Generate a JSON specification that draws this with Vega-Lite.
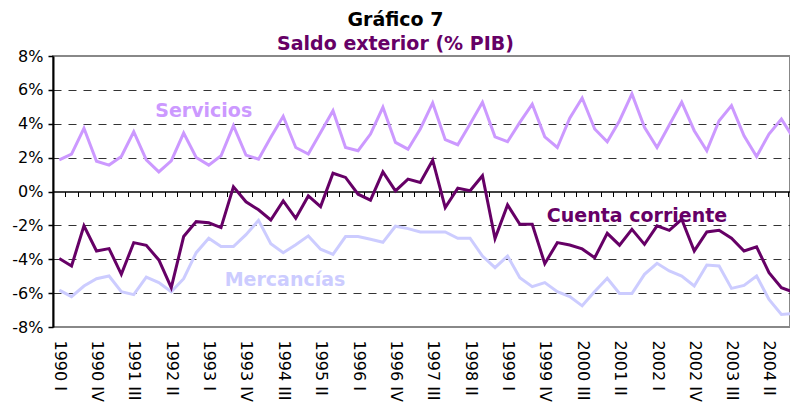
{
  "$schema": "https://vega.github.io/schema/vega-lite/v6.json",
  "width": 737,
  "height": 271,
  "autosize": {"type": "none"},
  "padding": {"left": 53, "top": 56, "right": 0, "bottom": 78},
  "title": {
    "text": "Gráfico 7",
    "subtitle": "Saldo exterior (% PIB)",
    "font": "DejaVu Sans",
    "subtitleFont": "DejaVu Sans",
    "fontSize": 19,
    "subtitleFontSize": 19,
    "fontWeight": "bold",
    "subtitleFontWeight": "bold",
    "color": "#000000",
    "subtitleColor": "#660066",
    "anchor": "middle",
    "dx": -26,
    "dy": 9,
    "offset": 3,
    "subtitlePadding": 5
  },
  "config": {
    "font": "DejaVu Sans",
    "view": {"stroke": "#888888", "strokeWidth": 2},
    "axis": {"labelFont": "DejaVu Sans", "labelColor": "#000000"}
  },
  "encoding": {
    "y": {
      "field": "valor",
      "type": "quantitative",
      "scale": {"domain": [-8, 8], "nice": false, "zero": false},
      "axis": {
        "title": null,
        "values": [-8, -6, -4, -2, 0, 2, 4, 6, 8],
        "labelExpr": "datum.value + '%'",
        "labelFontSize": 16,
        "labelPadding": 5,
        "labelOverlap": false,
        "labelFlush": false,
        "domainColor": "#000000",
        "domainWidth": 2,
        "tickColor": "#000000",
        "tickSize": 5,
        "tickWidth": 1.5,
        "grid": true,
        "gridColor": "#333333",
        "gridWidth": 1,
        "gridDash": [8, 7],
        "gridOpacity": {"condition": {"test": "abs(datum.value) == 8 || datum.value == 0", "value": 0}, "value": 1}
      }
    }
  },
  "layer": [
    {
      "data": {
        "values": [
          {"trimestre": "1990-01-01", "Cuenta corriente": -3.96, "Servicios": 1.87, "Mercancías": -5.82},
          {"trimestre": "1990-04-01", "Cuenta corriente": -4.40, "Servicios": 2.21, "Mercancías": -6.21},
          {"trimestre": "1990-07-01", "Cuenta corriente": -2.03, "Servicios": 3.73, "Mercancías": -5.58},
          {"trimestre": "1990-10-01", "Cuenta corriente": -3.51, "Servicios": 1.79, "Mercancías": -5.15},
          {"trimestre": "1991-01-01", "Cuenta corriente": -3.37, "Servicios": 1.56, "Mercancías": -4.99},
          {"trimestre": "1991-04-01", "Cuenta corriente": -4.89, "Servicios": 2.07, "Mercancías": -5.92},
          {"trimestre": "1991-07-01", "Cuenta corriente": -3.02, "Servicios": 3.53, "Mercancías": -6.09},
          {"trimestre": "1991-10-01", "Cuenta corriente": -3.18, "Servicios": 1.87, "Mercancías": -5.05},
          {"trimestre": "1992-01-01", "Cuenta corriente": -4.04, "Servicios": 1.16, "Mercancías": -5.38},
          {"trimestre": "1992-04-01", "Cuenta corriente": -5.68, "Servicios": 1.81, "Mercancías": -5.92},
          {"trimestre": "1992-07-01", "Cuenta corriente": -2.66, "Servicios": 3.45, "Mercancías": -5.15},
          {"trimestre": "1992-10-01", "Cuenta corriente": -1.78, "Servicios": 2.01, "Mercancías": -3.61},
          {"trimestre": "1993-01-01", "Cuenta corriente": -1.85, "Servicios": 1.56, "Mercancías": -2.76},
          {"trimestre": "1993-04-01", "Cuenta corriente": -2.13, "Servicios": 2.11, "Mercancías": -3.25},
          {"trimestre": "1993-07-01", "Cuenta corriente": 0.28, "Servicios": 3.89, "Mercancías": -3.25},
          {"trimestre": "1993-10-01", "Cuenta corriente": -0.61, "Servicios": 2.15, "Mercancías": -2.55},
          {"trimestre": "1994-01-01", "Cuenta corriente": -1.08, "Servicios": 1.91, "Mercancías": -1.70},
          {"trimestre": "1994-04-01", "Cuenta corriente": -1.68, "Servicios": 3.20, "Mercancías": -3.08},
          {"trimestre": "1994-07-01", "Cuenta corriente": -0.55, "Servicios": 4.44, "Mercancías": -3.61},
          {"trimestre": "1994-10-01", "Cuenta corriente": -1.58, "Servicios": 2.60, "Mercancías": -3.14},
          {"trimestre": "1995-01-01", "Cuenta corriente": -0.26, "Servicios": 2.21, "Mercancías": -2.62},
          {"trimestre": "1995-04-01", "Cuenta corriente": -0.89, "Servicios": 3.49, "Mercancías": -3.41},
          {"trimestre": "1995-07-01", "Cuenta corriente": 1.08, "Servicios": 4.77, "Mercancías": -3.71},
          {"trimestre": "1995-10-01", "Cuenta corriente": 0.83, "Servicios": 2.60, "Mercancías": -2.66},
          {"trimestre": "1996-01-01", "Cuenta corriente": -0.16, "Servicios": 2.41, "Mercancías": -2.66},
          {"trimestre": "1996-04-01", "Cuenta corriente": -0.51, "Servicios": 3.39, "Mercancías": -2.82},
          {"trimestre": "1996-07-01", "Cuenta corriente": 1.16, "Servicios": 4.97, "Mercancías": -3.00},
          {"trimestre": "1996-10-01", "Cuenta corriente": 0.04, "Servicios": 2.90, "Mercancías": -2.05},
          {"trimestre": "1997-01-01", "Cuenta corriente": 0.73, "Servicios": 2.50, "Mercancías": -2.19},
          {"trimestre": "1997-04-01", "Cuenta corriente": 0.53, "Servicios": 3.69, "Mercancías": -2.39},
          {"trimestre": "1997-07-01", "Cuenta corriente": 1.85, "Servicios": 5.23, "Mercancías": -2.39},
          {"trimestre": "1997-10-01", "Cuenta corriente": -0.95, "Servicios": 3.06, "Mercancías": -2.39},
          {"trimestre": "1998-01-01", "Cuenta corriente": 0.20, "Servicios": 2.76, "Mercancías": -2.76},
          {"trimestre": "1998-04-01", "Cuenta corriente": 0.04, "Servicios": 3.98, "Mercancías": -2.76},
          {"trimestre": "1998-07-01", "Cuenta corriente": 0.93, "Servicios": 5.27, "Mercancías": -3.81},
          {"trimestre": "1998-10-01", "Cuenta corriente": -2.78, "Servicios": 3.23, "Mercancías": -4.50},
          {"trimestre": "1999-01-01", "Cuenta corriente": -0.79, "Servicios": 2.94, "Mercancías": -3.81},
          {"trimestre": "1999-04-01", "Cuenta corriente": -1.93, "Servicios": 4.08, "Mercancías": -5.09},
          {"trimestre": "1999-07-01", "Cuenta corriente": -1.93, "Servicios": 5.15, "Mercancías": -5.62},
          {"trimestre": "1999-10-01", "Cuenta corriente": -4.26, "Servicios": 3.23, "Mercancías": -5.38},
          {"trimestre": "2000-01-01", "Cuenta corriente": -3.02, "Servicios": 2.60, "Mercancías": -5.92},
          {"trimestre": "2000-04-01", "Cuenta corriente": -3.16, "Servicios": 4.33, "Mercancías": -6.20},
          {"trimestre": "2000-07-01", "Cuenta corriente": -3.39, "Servicios": 5.52, "Mercancías": -6.75},
          {"trimestre": "2000-10-01", "Cuenta corriente": -3.91, "Servicios": 3.69, "Mercancías": -5.90},
          {"trimestre": "2001-01-01", "Cuenta corriente": -2.47, "Servicios": 2.94, "Mercancías": -5.12},
          {"trimestre": "2001-04-01", "Cuenta corriente": -3.17, "Servicios": 4.18, "Mercancías": -6.02},
          {"trimestre": "2001-07-01", "Cuenta corriente": -2.23, "Servicios": 5.76, "Mercancías": -6.02},
          {"trimestre": "2001-10-01", "Cuenta corriente": -3.12, "Servicios": 3.79, "Mercancías": -4.89},
          {"trimestre": "2002-01-01", "Cuenta corriente": -2.03, "Servicios": 2.60, "Mercancías": -4.24},
          {"trimestre": "2002-04-01", "Cuenta corriente": -2.29, "Servicios": 3.93, "Mercancías": -4.69},
          {"trimestre": "2002-07-01", "Cuenta corriente": -1.64, "Servicios": 5.27, "Mercancías": -4.99},
          {"trimestre": "2002-10-01", "Cuenta corriente": -3.51, "Servicios": 3.59, "Mercancías": -5.58},
          {"trimestre": "2003-01-01", "Cuenta corriente": -2.39, "Servicios": 2.41, "Mercancías": -4.34},
          {"trimestre": "2003-04-01", "Cuenta corriente": -2.29, "Servicios": 4.18, "Mercancías": -4.40},
          {"trimestre": "2003-07-01", "Cuenta corriente": -2.76, "Servicios": 5.07, "Mercancías": -5.72},
          {"trimestre": "2003-10-01", "Cuenta corriente": -3.51, "Servicios": 3.29, "Mercancías": -5.54},
          {"trimestre": "2004-01-01", "Cuenta corriente": -3.27, "Servicios": 2.07, "Mercancías": -4.99},
          {"trimestre": "2004-04-01", "Cuenta corriente": -4.79, "Servicios": 3.39, "Mercancías": -6.37},
          {"trimestre": "2004-07-01", "Cuenta corriente": -5.68, "Servicios": 4.28, "Mercancías": -7.26},
          {"trimestre": "2004-10-01", "Cuenta corriente": -5.95, "Servicios": 3.10, "Mercancías": -7.20}
        ]
      },
      "transform": [
        {"fold": ["Mercancías", "Servicios", "Cuenta corriente"], "as": ["serie", "valor"]}
      ],
      "mark": {"type": "line", "strokeWidth": 3, "clip": true},
      "encoding": {
        "x": {
          "field": "trimestre",
          "type": "temporal",
          "scale": {
            "type": "utc",
            "nice": false,
            "domain": [
              {"year": 1989, "month": 11, "date": 16, "utc": true},
              {"year": 2004, "month": 9, "date": 2, "utc": true}
            ]
          },
          "axis": {
            "orient": "bottom",
            "title": null,
            "domain": false,
            "ticks": false,
            "grid": false,
            "tickCount": {"interval": "month", "step": 3},
            "labelAngle": 90,
            "labelAlign": "left",
            "labelBaseline": "middle",
            "labelFontSize": 16,
            "labelPadding": 13,
            "labelOverlap": false,
            "labelFlush": false,
            "labelBound": false,
            "labelExpr": "((utcyear(datum.value) - 1990) * 4 + floor(utcmonth(datum.value) / 3)) % 3 == 0 ? utcyear(datum.value) + ' ' + ['I', 'II', 'III', 'IV'][floor(utcmonth(datum.value) / 3)] : ''"
          }
        },
        "color": {
          "field": "serie",
          "type": "nominal",
          "scale": {
            "domain": ["Mercancías", "Servicios", "Cuenta corriente"],
            "range": ["#CCCCFF", "#CC99FF", "#660066"]
          },
          "legend": null
        }
      }
    },
    {
      "data": {
        "values": [
          {"trimestre": "1992-11-25", "valor": 4.40, "etiqueta": "Servicios"},
          {"trimestre": "2001-08-07", "valor": -1.82, "etiqueta": "Cuenta corriente"},
          {"trimestre": "1994-07-14", "valor": -5.59, "etiqueta": "Mercancías"}
        ]
      },
      "mark": {"type": "text", "fontWeight": "bold", "fontSize": 19, "font": "DejaVu Sans", "align": "center", "baseline": "alphabetic"},
      "encoding": {
        "x": {
          "field": "trimestre",
          "type": "temporal",
          "axis": {
            "orient": "bottom",
            "offset": -135.5,
            "title": null,
            "labels": false,
            "grid": false,
            "domain": true,
            "domainColor": "#000000",
            "domainWidth": 1.5,
            "ticks": true,
            "tickColor": "#000000",
            "tickSize": 5,
            "tickWidth": 1,
            "tickOffset": 6.2,
            "tickCount": {"interval": "month", "step": 3}
          }
        },
        "text": {"field": "etiqueta"},
        "color": {"field": "etiqueta", "type": "nominal", "legend": null}
      }
    }
  ],
  "resolve": {"axis": {"x": "independent"}}
}
